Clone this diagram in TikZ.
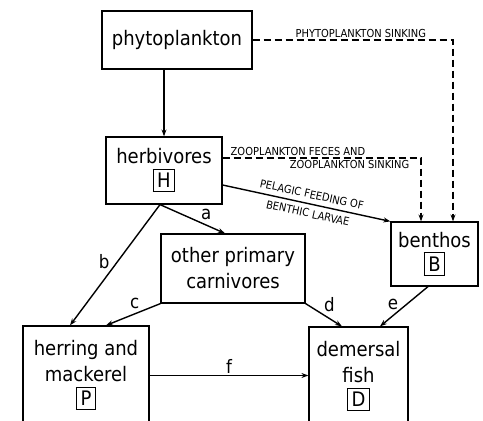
\documentclass[tikz,border=0pt]{standalone}
\usepackage{fontspec}
\setmainfont{DejaVu Sans Condensed}
\usepackage{tikz}
\usetikzlibrary{arrows.meta,positioning}

\newcommand{\boxlet}[1]{{\setlength{\fboxsep}{3.5pt}\setlength{\fboxrule}{1.1pt}\fbox{#1}}}

\begin{document}
\begin{tikzpicture}[
   x=1pt,y=-1pt,
   every node/.style={font=\fontsize{20}{26}\selectfont},
   group/.style={draw,line width=1.2pt,align=center,inner sep=0pt},
   flow/.style={line width=1.4pt,-{Stealth[length=7pt,width=5pt]}},
   sink/.style={flow,line width=1.6pt,dash pattern=on 7pt off 4pt},
   caps/.style={font=\fontsize{11}{12}\selectfont,inner sep=2pt},
   letter/.style={font=\fontsize{18.5}{18.5}\selectfont,inner sep=1.5pt}
 ]
  \clip (0,0) rectangle (483,421);

  % boxes of the food web
  \node[group,minimum width=150,minimum height=58] (phyto) at (177,40) {phytoplankton};
  \node[group,minimum width=116,minimum height=67] (herb) at (164,170.5) {herbivores\\[-2pt]\boxlet{H}};
  \node[group,minimum width=144,minimum height=69] (other) at (233,268.5) {other primary\\carnivores};
  \node[group,minimum width=87,minimum height=64] (benthos) at (434.5,254) {benthos\\[-2pt]\boxlet{B}};
  \node[group,minimum width=126,minimum height=99] (herring) at (86,375.5) {herring and\\mackerel\\[-2pt]\boxlet{P}};
  \node[group,minimum width=99,minimum height=99] (demersal) at (358.5,376.5) {demersal\\fish\\[-2pt]\boxlet{D}};

  % sinking to the bottom
  \draw[sink] (phyto.east) -| ([xshift=18.5pt]benthos.north)
    node[caps,pos=.27,above] {PHYTOPLANKTON SINKING};
  \draw[sink] ([yshift=12.5pt]herb.east) -| ([xshift=-13.5pt]benthos.north)
    node[caps,pos=.19,above] {ZOOPLANKTON FECES AND}
    node[caps,pos=.32,below] {ZOOPLANKTON SINKING};
  \draw[flow] ([yshift=-14.5pt]herb.east) -- (benthos.north west)
    node[caps,pos=.52,sloped,align=center] {PELAGIC FEEDING OF\\[7pt]BENTHIC LARVAE};

  % feeding links
  \draw[flow] (herb.north |- phyto.south) -- (herb.north);
  \draw[flow] ([xshift=-4pt]herb.south) -- ([xshift=-8pt]other.north)
    node[letter,pos=.6,above right] {a};
  \draw[flow] ([xshift=-4pt]herb.south) -- ([xshift=-16pt]herring.north)
    node[letter,pos=.47,left=6pt] {b};
  \draw[flow] (other.south west) -- ([xshift=20pt]herring.north)
    node[letter,pos=.35,above left] {c};
  \draw[flow] (other.south east) -- ([xshift=-16.5pt]demersal.north)
    node[letter,pos=.45,above right] {d};
  \draw[flow] ([xshift=-6.5pt]benthos.south) -- ([xshift=21.5pt]demersal.north)
    node[letter,pos=.45,left=6pt] {e};
  \draw[flow] (herring.east) -- (herring.east -| demersal.west)
    node[letter,midway,above] {f};
\end{tikzpicture}
\end{document}
